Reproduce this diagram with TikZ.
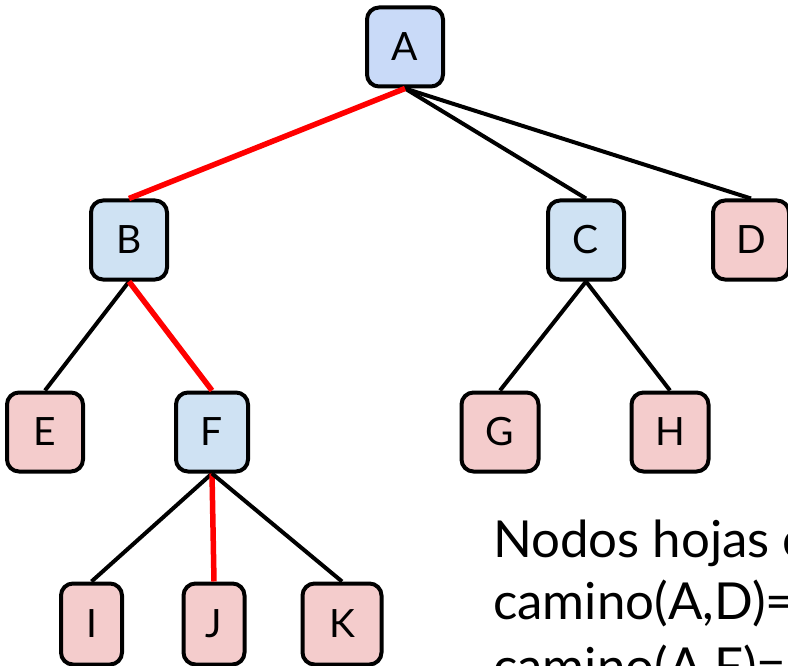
\documentclass[tikz,border=0pt]{standalone}
\usepackage{fontspec}
\setmainfont{Lato}
\usetikzlibrary{positioning}
\definecolor{rootblue}{HTML}{C9DAF8}
\definecolor{innerblue}{HTML}{CFE2F3}
\definecolor{leafpink}{HTML}{F4CCCC}
\tikzset{%
	treenode/.style={draw, line width=4pt, rectangle, rounded corners=12pt,%
		minimum width=76pt, minimum height=79pt, inner sep=0pt,%
		font=\fontsize{39}{39}\selectfont},
	root/.style={treenode, fill=rootblue},
	internal/.style={treenode, fill=innerblue},
	leaf/.style={treenode, fill=leafpink},
	narrow/.style={minimum width=61pt},
	connector/.style={line width=4pt},
	route/.style={draw=red, line width=5.5pt},
	caption/.style={anchor=base west, inner sep=0pt, font=\fontsize{51}{55}\selectfont}
}
\begin{document}
\begin{tikzpicture}[x=1pt, y=-1pt]
	\useasboundingbox (0,0) rectangle (788,666);
	\clip (0,0) rectangle (788,666);

	\node[root] (A) at (405,47) {A};
	\node[internal] (B) at (129,240) {B};
	\node[internal] (C) at (586,240) {C};
	\node[leaf] (D) at (751,240) {D};
	\node[leaf] (E) at (45,432) {E};
	\node[internal, minimum width=72pt] (F) at (212,432) {F};
	\node[leaf, minimum width=77pt] (G) at (500,432) {G};
	\node[leaf, minimum width=77pt] (H) at (670,432) {H};
	\node[leaf, narrow, minimum height=81pt] (I) at (91.5,624) {I};
	\node[leaf, narrow, minimum height=81pt] (J) at (214,624) {J};
	\node[leaf, minimum width=79pt, minimum height=81pt] (K) at (342,624) {K};

	% branches, the red ones mark the path to J
	\draw[connector] (A.south) to (C.north);
	\draw[connector] (A.south) to (D.north);
	\draw[route] (A.south) to (B.north);
	\draw[connector] (B.south) to (E.north);
	\draw[route] (B.south) to (F.north);
	\draw[connector] (C.south) to (G.north);
	\draw[connector] (C.south) to (H.north);
	\draw[connector] (F.south) to (I.north);
	\draw[route] (F.south) to (J.north);
	\draw[connector] (F.south) to (K.north);

	\node[caption] (hojas) at (493,557) {Nodos hojas c};
	\node[caption] (caminoD) at (493,619) {camino(A,D)=};
	\node[caption] (caminoF) at (493,684) {camino(A,F)=};
\end{tikzpicture}
\end{document}
